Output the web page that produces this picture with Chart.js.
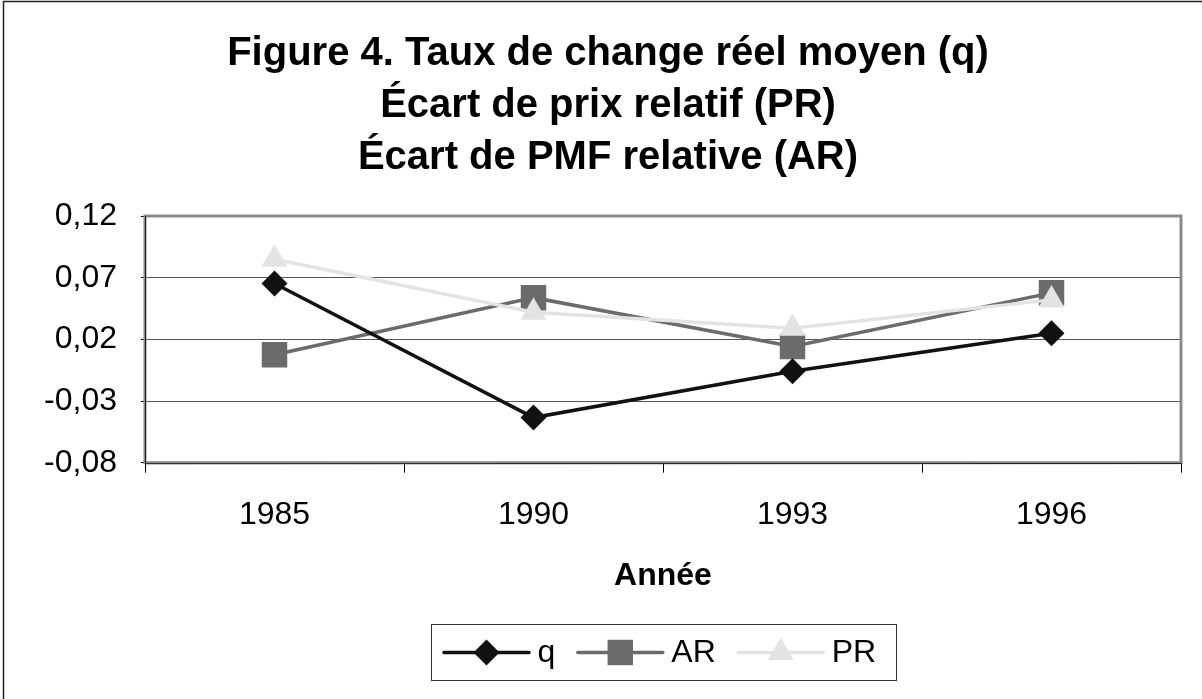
<!DOCTYPE html>
<html>
<head>
<meta charset="utf-8">
<script src="https://cdn.jsdelivr.net/npm/chart.js@4/dist/chart.umd.min.js"></script>
<style>
html,body{margin:0;padding:0;background:#fff;}
#wrap{position:relative;width:1202px;height:699px;}
canvas{display:block;}
</style>
</head>
<body>
<div id="wrap"><canvas id="c" width="1202" height="699"></canvas></div>
<script>
// ---- data ----
const categories = ['1985', '1990', '1993', '1996'];
const qValues  = [0.0653, -0.0434, -0.0058, 0.0250];
const arValues = [0.0075, 0.0538, 0.0142, 0.0577];
const prValues = [0.0850, 0.0420, 0.0290, 0.0520];
const yTicks = [-0.08, -0.03, 0.02, 0.07, 0.12];
const titleLines = ['Figure 4. Taux de change réel moyen (q)', 'Écart de prix relatif (PR)', 'Écart de PMF relative (AR)'];
const xTitle = 'Année';
const seriesNames = ['q', 'AR', 'PR'];

const FONT = "'Liberation Sans', Arial, sans-serif";

function drawShape(ctx, style, x, y, r, color) {
  ctx.save();
  ctx.fillStyle = color;
  ctx.beginPath();
  if (style === 'rectRot') {
    ctx.moveTo(x - r, y); ctx.lineTo(x, y - r); ctx.lineTo(x + r, y); ctx.lineTo(x, y + r);
  } else if (style === 'rect') {
    const s = Math.SQRT1_2 * r;
    ctx.rect(x - s, y - s, 2 * s, 2 * s);
  } else if (style === 'triangle') {
    let a = 0;
    ctx.moveTo(x + Math.sin(a) * r, y - Math.cos(a) * r);
    a += 2 * Math.PI / 3; ctx.lineTo(x + Math.sin(a) * r, y - Math.cos(a) * r);
    a += 2 * Math.PI / 3; ctx.lineTo(x + Math.sin(a) * r, y - Math.cos(a) * r);
  }
  ctx.closePath();
  ctx.fill();
  ctx.restore();
}

const framePlugin = {
  id: 'frame',
  beforeDatasetsDraw(chart) {
    const {ctx, chartArea: a} = chart;
    ctx.save();
    ctx.strokeStyle = '#8a8a8a';
    ctx.lineWidth = 3;
    ctx.strokeRect(a.left, a.top, a.right - a.left, a.bottom - a.top);
    ctx.strokeStyle = '#222';
    ctx.lineWidth = 1;
    ctx.beginPath();
    ctx.moveTo(Math.round(a.left) + 0.5, a.top);
    ctx.lineTo(Math.round(a.left) + 0.5, a.bottom + 1);
    ctx.lineTo(a.right + 1, Math.round(a.bottom) + 0.5);
    ctx.stroke();
    ctx.restore();
  },
  afterDraw(chart) {
    const ctx = chart.ctx;
    ctx.save();
    // outer border (top & left)
    ctx.strokeStyle = '#222';
    ctx.lineWidth = 1.5;
    ctx.beginPath();
    ctx.moveTo(3.5, 699); ctx.lineTo(3.5, 1.5); ctx.lineTo(1202, 1.5);
    ctx.stroke();

    // legend
    ctx.font = '32px ' + FONT;
    const lineLen = 88, padL = 11, gapText = 7, gapItem = 21, padR = 20;
    const widths = chart.data.datasets.map(d => ctx.measureText(d.label).width);
    let total = padL + padR;
    widths.forEach((w, i) => { total += lineLen + gapText + w + (i < widths.length - 1 ? gapItem : 0); });
    const cx = 663.5, top = 624.5, h = 56;
    const left = Math.round(cx - total / 2) + 0.5;
    ctx.strokeStyle = '#333';
    ctx.lineWidth = 1;
    ctx.strokeRect(left, top, Math.round(total), h);
    const y = top + h / 2;
    let x = left + padL;
    ctx.textBaseline = 'middle';
    ctx.textAlign = 'left';
    chart.data.datasets.forEach((d, i) => {
      ctx.strokeStyle = d.borderColor;
      ctx.lineWidth = d.borderWidth;
      ctx.lineCap = 'round';
      ctx.beginPath();
      ctx.moveTo(x + 1.5, y); ctx.lineTo(x + lineLen - 1.5, y);
      ctx.stroke();
      drawShape(ctx, d.pointStyle, x + lineLen / 2, y, d.pointRadius, d.pointBackgroundColor);
      ctx.fillStyle = '#000';
      ctx.fillText(d.label, x + lineLen + gapText, y + 1);
      x += lineLen + gapText + widths[i] + gapItem;
    });
    ctx.restore();
  }
};

new Chart(document.getElementById('c'), {
  type: 'line',
  data: {
    labels: categories,
    datasets: [
      { label: seriesNames[0], data: qValues, borderColor: '#111111', backgroundColor: '#111111',
        pointBackgroundColor: '#111111', pointBorderColor: '#111111', borderWidth: 3.5,
        pointStyle: 'rectRot', pointRadius: 13, pointBorderWidth: 0, pointHoverRadius: 13, order: 2, tension: 0 },
      { label: seriesNames[1], data: arValues, borderColor: '#6b6b6b', backgroundColor: '#6b6b6b',
        pointBackgroundColor: '#6b6b6b', pointBorderColor: '#6b6b6b', borderWidth: 3.5,
        pointStyle: 'rect', pointRadius: 18, pointBorderWidth: 0, pointHoverRadius: 18, order: 3, tension: 0 },
      { label: seriesNames[2], data: prValues, borderColor: '#e3e3e3', backgroundColor: '#e3e3e3',
        pointBackgroundColor: '#e3e3e3', pointBorderColor: '#e3e3e3', borderWidth: 3.5,
        pointStyle: 'triangle', pointRadius: 15, pointBorderWidth: 0, pointHoverRadius: 15, order: 1, tension: 0 }
    ]
  },
  options: {
    responsive: false,
    animation: false,
    layout: { padding: { left: 35, right: 21, top: 0, bottom: 103.5 } },
    plugins: {
      legend: { display: false },
      tooltip: { enabled: false },
      title: {
        display: true,
        text: titleLines,
        color: '#000',
        font: { family: FONT, size: 40, weight: 'bold', lineHeight: 1.3 },
        padding: { top: 28, bottom: 32 }
      }
    },
    scales: {
      x: {
        type: 'category',
        offset: true,
        grid: { display: true, offset: true, drawOnChartArea: false, drawTicks: true, tickLength: 10, color: '#000', tickColor: '#000' },
        border: { display: false },
        ticks: { color: '#000', font: { family: FONT, size: 32 }, padding: 23, maxRotation: 0, autoSkip: false },
        title: { display: true, text: xTitle, color: '#000', font: { family: FONT, size: 32, weight: 'bold' }, padding: { top: 0, bottom: 0 } }
      },
      y: {
        min: yTicks[0],
        max: yTicks[yTicks.length - 1],
        afterBuildTicks(scale) { scale.ticks = yTicks.map(v => ({ value: v })); },
        afterFit(scale) { scale.width = 110; },
        grid: { color: '#555', lineWidth: 1, drawTicks: true, tickLength: 4, tickColor: '#000' },
        border: { display: false },
        ticks: { color: '#000', font: { family: FONT, size: 32 }, padding: 24,
          callback: (v) => v.toFixed(2).replace('.', ',') }
      }
    }
  },
  plugins: [framePlugin]
});
</script>
</body>
</html>
